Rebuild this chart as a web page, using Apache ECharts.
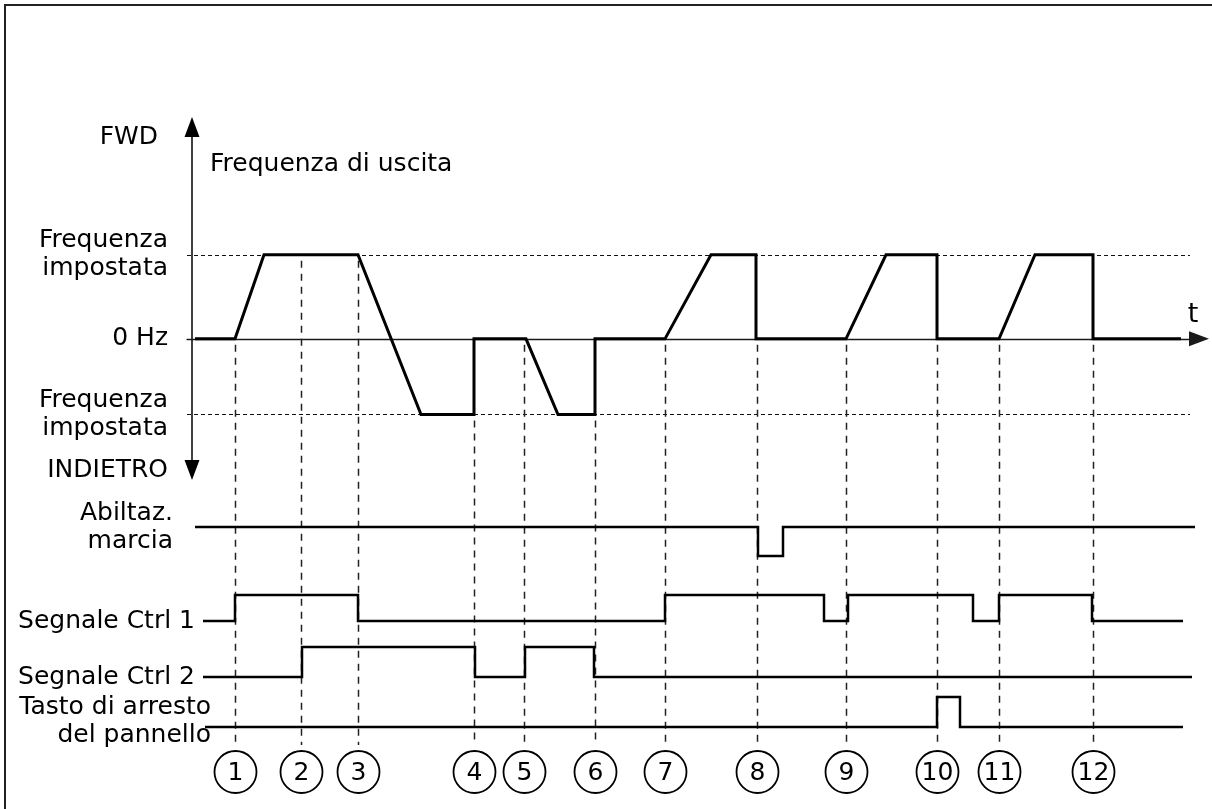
<!DOCTYPE html>
<html>
<head>
<meta charset="utf-8">
<script src="https://cdn.jsdelivr.net/npm/echarts@6/dist/echarts.min.js"></script>
<style>
  html, body { margin: 0; padding: 0; background: #fff; }
  #chart { width: 1212px; height: 809px; }
</style>
</head>
<body>
<div id="chart"></div>
<script>
// Time runs in arbitrary units from the frequency axis (t = 0) to the right.
const FWD_SET = 1;      // forward set frequency (normalised)
const REV_SET = -0.9;   // reverse set frequency (normalised)

// Numbered events along the time line
const eventNames = ['1', '2', '3', '4', '5', '6', '7', '8', '9', '10', '11', '12'];
const eventTimes = [43, 109, 166, 282, 332, 403, 473, 565, 654, 745, 807, 901];
// output-frequency level at which each event guide begins
const eventGuideFrom = [0, 1, 1, -0.9, 0, -0.9, 0, 0, 0, 0, 0, 0];

// Output frequency [t, f]
const outputFreq = [
  [3, 0], [43, 0], [72, 1], [166, 1], [229, -0.9], [282, -0.9], [282, 0],
  [334, 0], [366, -0.9], [403, -0.9], [403, 0], [473, 0], [519, 1], [564, 1],
  [564, 0], [654, 0], [694, 1], [745, 1], [745, 0], [807, 0], [843, 1],
  [901, 1], [901, 0], [989, 0]
];

// Digital signals [t, level] – level holds until the next point
const runEnable  = [[3, 1], [566, 0], [591, 1], [1003, 1]];
const ctrlSignal1 = [[11, 0], [43, 1], [166, 0], [473, 1], [632, 0], [656, 1], [781, 0], [807, 1], [900, 0], [991, 0]];
const ctrlSignal2 = [[11, 0], [110, 1], [283, 0], [333, 1], [402, 0], [1000, 0]];
const stopKey    = [[13, 0], [745, 1], [768, 0], [991, 0]];

// Frequency axis labels
const freqTickValues = [2.39, 1, 0, -0.9, -1.56];
const freqTickLabels = ['FWD', 'Frequenza\nimpostata', '0 Hz', 'Frequenza\nimpostata', 'INDIETRO'];

// Signal row labels
const signalLabels = ['Abiltaz.\nmarcia', 'Segnale Ctrl 1', 'Segnale Ctrl 2', 'Tasto di arresto\ndel pannello'];
const signalLabelAt = [1, 0, 0, 0.2];

const FONT = 'DejaVu Sans';
const FS = 25;
const T_MIN = -5, T_MAX = 1007;
const GUIDE_BOTTOM = 745;
const BADGE_Y = 772;

const chart = echarts.init(document.getElementById('chart'), null, { renderer: 'canvas' });

const labelBase = { color: '#000', fontFamily: FONT, fontSize: FS, lineHeight: 28 };

const signalGrids = [
  { top: 527, height: 29 },
  { top: 595, height: 26 },
  { top: 647, height: 30 },
  { top: 697, height: 30 }
];
const signalMargins = [14, -8, -8, -24];
const signalData = [runEnable, ctrlSignal1, ctrlSignal2, stopKey];

const grids = [{ left: 187, right: 13, top: 127, height: 343 }]
  .concat(signalGrids.map(g => ({ left: 187, right: 13, top: g.top, height: g.height })));

const xAxes = [{
  gridIndex: 0, type: 'value', min: T_MIN, max: T_MAX,
  axisLine: {
    show: true, onZero: true,
    symbol: ['none', 'triangle'], symbolSize: [15, 20],
    lineStyle: { color: '#1a1a1a', width: 1.3 }
  },
  axisTick: { show: false }, axisLabel: { show: false }, splitLine: { show: false },
  name: 't', nameLocation: 'end', nameGap: -6,
  nameTextStyle: { color: '#000', fontFamily: FONT, fontSize: 27, verticalAlign: 'bottom', align: 'center', padding: [0, 0, 10, 0] }
}].concat(signalGrids.map((g, i) => ({
  gridIndex: i + 1, type: 'value', min: T_MIN, max: T_MAX, show: false
})));

const yAxes = [{
  gridIndex: 0, type: 'value', min: -1.56, max: 2.52,
  axisLine: {
    show: true, onZero: true,
    symbol: ['triangle', 'triangle'], symbolSize: [15, 20],
    lineStyle: { color: '#000', width: 1.5 }
  },
  axisTick: { show: false }, splitLine: { show: false },
  axisLabel: Object.assign({}, labelBase, {
    customValues: freqTickValues,
    margin: 19,
    formatter: function (v) {
      let k = 0, best = Infinity;
      freqTickValues.forEach((tv, j) => { const d = Math.abs(tv - v); if (d < best) { best = d; k = j; } });
      return k === 0 ? '{fwd|' + freqTickLabels[k] + '}' : freqTickLabels[k];
    },
    rich: { fwd: { color: '#000', fontFamily: FONT, fontSize: FS, padding: [0, 10, 0, 0] } }
  })
}].concat(signalGrids.map((g, i) => ({
  gridIndex: i + 1, type: 'value', min: 0, max: 1,
  axisLine: { show: false, onZero: false }, axisTick: { show: false }, splitLine: { show: false },
  axisLabel: Object.assign({}, labelBase, {
    customValues: [signalLabelAt[i]],
    margin: signalMargins[i],
    formatter: function () { return signalLabels[i]; }
  })
})));

const series = [
  {
    name: 'Frequenza di uscita', type: 'line', xAxisIndex: 0, yAxisIndex: 0,
    data: outputFreq, showSymbol: false, clip: false, z: 5,
    lineStyle: { color: '#000', width: 3, join: 'miter', cap: 'butt' },
    markLine: {
      silent: true, symbol: ['none', 'none'], z: 1,
      label: { show: false },
      lineStyle: { color: '#111', width: 1, type: [4, 3] },
      data: [
        [{ coord: [T_MIN, FWD_SET] }, { coord: [998, FWD_SET] }],
        [{ coord: [T_MIN, REV_SET] }, { coord: [998, REV_SET] }]
      ]
    }
  },
  {
    name: 'eventi', type: 'custom', xAxisIndex: 0, yAxisIndex: 0, clip: false, silent: true, z: 2,
    data: eventTimes.map((t, i) => [t, eventGuideFrom[i]]),
    renderItem: function (params, api) {
      const p = api.coord([api.value(0), api.value(1)]);
      const x = Math.round(p[0]) + 0.5;
      return {
        type: 'group',
        children: [
          { type: 'line', shape: { x1: x, y1: p[1] + 6, x2: x, y2: GUIDE_BOTTOM },
            style: { stroke: '#222', lineWidth: 1.5, lineDash: [7, 6] } },
          { type: 'circle', shape: { cx: x, cy: BADGE_Y, r: 21 },
            style: { fill: '#fff', stroke: '#000', lineWidth: 1.8 } },
          { type: 'text',
            style: { text: eventNames[params.dataIndex], x: x, y: BADGE_Y + 1, align: 'center', verticalAlign: 'middle',
                     fontFamily: FONT, fontSize: FS, fill: '#000' } }
        ]
      };
    }
  }
].concat(signalData.map((d, i) => ({
  name: signalLabels[i], type: 'line', step: 'end',
  xAxisIndex: i + 1, yAxisIndex: i + 1,
  data: d, showSymbol: false, clip: false, z: 5,
  lineStyle: { color: '#000', width: 2.5, join: 'miter', cap: 'butt' }
})));

chart.setOption({
  animation: false,
  backgroundColor: '#fff',
  title: {
    text: 'Frequenza di uscita', left: 205, top: 147,
    textStyle: { color: '#000', fontFamily: FONT, fontSize: FS, fontWeight: 'normal' }
  },
  graphic: [{
    type: 'rect', silent: true, z: -1,
    shape: { x: 5, y: 5, width: 1230, height: 830 },
    style: { fill: 'none', stroke: '#222', lineWidth: 2 }
  }],
  grid: grids,
  xAxis: xAxes,
  yAxis: yAxes,
  series: series
});
</script>
</body>
</html>
